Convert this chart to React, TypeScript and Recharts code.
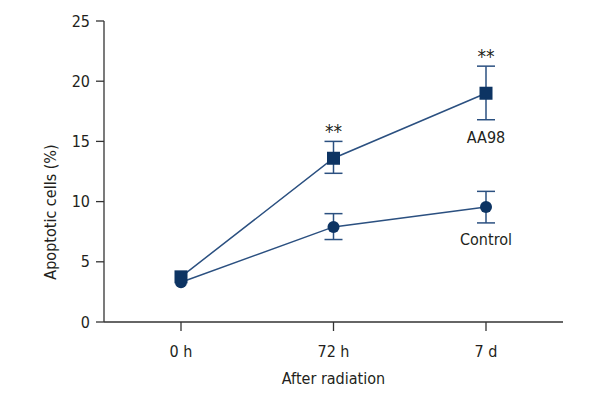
import React from 'react';
import { LineChart, Line, XAxis, YAxis, ErrorBar, LabelList } from 'recharts';

const categories = ['0 h', '72 h', '7 d'];
const aa98Values = [3.75, 13.6, 19.0];
const aa98Errors: ([number, number] | null)[] = [null, [1.25, 1.4], [2.2, 2.25]];
const controlValues = [3.3, 7.9, 9.55];
const controlErrors: ([number, number] | null)[] = [null, [1.05, 1.1], [1.32, 1.3]];
const significance: (string | null)[] = [null, '**', '**'];
const seriesNames = ['AA98', 'Control'];
const yTicks = [0, 5, 10, 15, 20, 25];

const last = categories.length - 1;
const upper = (v: number, e: [number, number] | null) => v + (e ? e[1] : 0);
const lower = (v: number, e: [number, number] | null) => v - (e ? e[0] : 0);
const data = categories.map((name, i) => ({
  name,
  aa98: aa98Values[i],
  aa98Err: aa98Errors[i],
  control: controlValues[i],
  controlErr: controlErrors[i],
  sigPos: significance[i] ? upper(aa98Values[i], aa98Errors[i]) : null,
  sig: significance[i],
  aa98NamePos: i === last ? lower(aa98Values[i], aa98Errors[i]) : null,
  aa98Name: i === last ? seriesNames[0] : null,
  controlNamePos: i === last ? lower(controlValues[i], controlErrors[i]) : null,
  controlName: i === last ? seriesNames[1] : null,
}));

const FONT = '"Liberation Sans Narrow", "DejaVu Sans Condensed", "Liberation Sans", sans-serif';
const FS = 16;
const TEXT = '#231f20';
const LINE = '#2b5080';
const MARK = '#0d3463';

const SquareDot = (props: any) => {
  const { cx, cy, index } = props;
  if (cx == null || cy == null) return <g key={`s-${index}`} />;
  const s = 13;
  return <rect key={`s-${index}`} x={cx - s / 2} y={cy - s / 2} width={s} height={s} fill={MARK} />;
};

const CircleDot = (props: any) => {
  const { cx, cy, index } = props;
  if (cx == null || cy == null) return <g key={`c-${index}`} />;
  return <circle key={`c-${index}`} cx={cx} cy={cy} r={6} fill={MARK} />;
};

const YLabel = () => (
  <text
    x={50}
    y={212}
    transform="rotate(-90 50 212)"
    textAnchor="middle"
    dominantBaseline="central"
    fontFamily={FONT}
    fontSize={FS}
    fill={TEXT}
  >
    Apoptotic cells (%)
  </text>
);

export default function App() {
  return (
    <div style={{ position: 'absolute', left: 0, top: 0 }}>
      <LineChart
        width={600}
        height={400}
        data={data}
        margin={{ top: 21, right: 37, bottom: 16, left: 0 }}
      >
        <XAxis
          dataKey="name"
          padding={{ left: 77, right: 77 }}
          height={62}
          tickSize={9}
          tickMargin={15}
          tick={{ fontFamily: FONT, fontSize: FS, fill: TEXT }}
          axisLine={{ stroke: '#333', strokeWidth: 1.3 }}
          tickLine={{ stroke: '#333', strokeWidth: 1.3 }}
          label={{
            value: 'After radiation',
            position: 'insideBottom',
            offset: 0,
            fontFamily: FONT,
            fontSize: FS,
            fill: TEXT,
          }}
        />
        <YAxis
          domain={[0, 25]}
          ticks={yTicks}
          width={104}
          tickSize={8}
          tickMargin={6}
          tick={{ fontFamily: FONT, fontSize: FS, fill: TEXT }}
          axisLine={{ stroke: '#333', strokeWidth: 1.3 }}
          tickLine={{ stroke: '#333', strokeWidth: 1.3 }}
          label={<YLabel />}
        />
        <Line
          dataKey="control"
          stroke={LINE}
          strokeWidth={1.5}
          dot={CircleDot}
          activeDot={false}
          isAnimationActive={false}
        >
          <ErrorBar dataKey="controlErr" width={9} stroke={LINE} strokeWidth={1.5} />
        </Line>
        <Line
          dataKey="aa98"
          stroke={LINE}
          strokeWidth={1.5}
          dot={SquareDot}
          activeDot={false}
          isAnimationActive={false}
        >
          <ErrorBar dataKey="aa98Err" width={9} stroke={LINE} strokeWidth={1.5} />
        </Line>
        <Line
          dataKey="sigPos"
          stroke="none"
          dot={false}
          activeDot={false}
          isAnimationActive={false}
        >
          <LabelList dataKey="sig" position="top" offset={3} fontFamily={FONT} fontSize={19} fill={TEXT} />
        </Line>
        <Line
          dataKey="aa98NamePos"
          stroke="none"
          dot={false}
          activeDot={false}
          isAnimationActive={false}
        >
          <LabelList dataKey="aa98Name" position="bottom" offset={12} fontFamily={FONT} fontSize={FS} fill={TEXT} />
        </Line>
        <Line
          dataKey="controlNamePos"
          stroke="none"
          dot={false}
          activeDot={false}
          isAnimationActive={false}
        >
          <LabelList dataKey="controlName" position="bottom" offset={11} fontFamily={FONT} fontSize={FS} fill={TEXT} />
        </Line>
      </LineChart>
    </div>
  );
}
